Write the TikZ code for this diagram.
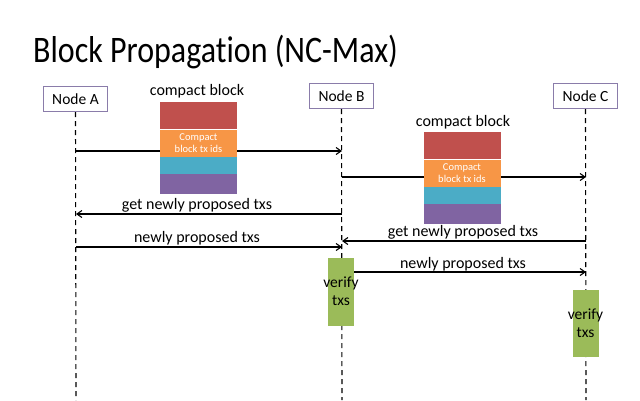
\documentclass[tikz,border=0pt]{standalone}
\usepackage{fontspec}
\setmainfont{Carlito}[Ligatures=NoCommon]
\usetikzlibrary{arrows.meta}
\definecolor{cbred}{HTML}{C0504D}
\definecolor{cborange}{HTML}{F79646}
\definecolor{cbcyan}{HTML}{4BACC6}
\definecolor{cbpurple}{HTML}{8064A2}
\definecolor{cbgreen}{HTML}{9BBB59}
\definecolor{boxline}{HTML}{8A7CAA}
\tikzset{
  actor/.style={draw=boxline, line width=1pt, fill=white, minimum width=64pt, minimum height=25pt, inner sep=0pt, font=\fontsize{15.5}{18}\selectfont},
  lifeline/.style={line width=1.1pt, dash pattern=on 5pt off 4pt},
  msg/.style={line width=1.1pt, -{Straight Barb[length=5pt,width=7pt]}},
  lbl/.style={font=\fontsize{16}{19}\selectfont, inner sep=0pt},
  seg/.style={inner sep=0pt, minimum width=77pt, anchor=north},
  seglbl/.style={font=\fontsize{10.5}{12}\selectfont, text=white, align=center, inner sep=0pt},
  verify/.style={fill=cbgreen, inner sep=0pt, minimum width=26pt, anchor=north},
  vlbl/.style={font=\fontsize{15.5}{18.5}\selectfont, align=center, inner sep=0pt}
}
\begin{document}
\begin{tikzpicture}[x=1pt,y=-1pt]
\useasboundingbox (0,0) rectangle (640,400);
% title
\node[anchor=base west, inner sep=0pt, font=\fontsize{32}{36}\selectfont] (title) at (33,62) {\scalebox{1}[1.17]{Block Propagation (NC-Max)}};
% actors
\node[actor] (A) at (75.5,99) {Node A};
\node[actor] (B) at (341.5,96) {Node B};
\node[actor] (C) at (585.5,96) {Node C};
\coordinate (Aend) at (76,400);
\coordinate (Bend) at (342,400);
\coordinate (Cend) at (586,400);
\draw[lifeline] (A.south) -- (Aend);
\draw[lifeline] (B.south) -- (Bend);
\draw[lifeline] (C.south) -- (Cend);
% message points
\coordinate (a1) at (76,151); \coordinate (b1) at (342,151);
\coordinate (b2) at (342,177); \coordinate (c2) at (586,177);
\coordinate (b3) at (342,214); \coordinate (a3) at (76,214);
\coordinate (c4) at (586,241); \coordinate (b4) at (342,241);
\coordinate (a5) at (76,247); \coordinate (b5) at (342,247);
\coordinate (c6) at (586,272);
% messages
\draw[msg] (a1) -- (b1);
\draw[msg] (b2) -- (c2);
\draw[msg] (b3) -- (a3);
\draw[msg] (c4) -- (b4);
\draw[msg] (a5) -- (b5);
% compact block 1
\node[lbl] (cb1) at (197,91) {compact block};
\node[seg, fill=cbred, minimum height=27pt] (r1) at (198.5,102) {};
\node[seg, fill=cborange, minimum height=27pt] (o1) at (r1.south) {};
\node[seg, fill=cbcyan, minimum height=17pt] (c1) at (o1.south) {};
\node[seg, fill=cbpurple, minimum height=20pt] (p1) at (c1.south) {};
\node[seglbl] (t1) at (o1.center) {Compact\\block tx ids};
% compact block 2
\node[lbl] (cb2) at (463,122) {compact block};
\node[seg, fill=cbred, minimum height=27pt] (r2) at (462,132) {};
\node[seg, fill=cborange, minimum height=27pt] (o2) at (r2.south) {};
\node[seg, fill=cbcyan, minimum height=17pt] (cc2) at (o2.south) {};
\node[seg, fill=cbpurple, minimum height=20pt] (p2) at (cc2.south) {};
\node[seglbl] (t2) at (o2.center) {Compact\\block tx ids};
% labels
\node[lbl] (l3) at (197,205) {get newly proposed txs};
\node[lbl] (l4) at (463,232) {get newly proposed txs};
\node[lbl] (l5) at (197,238) {newly proposed txs};
% verify boxes
\node[verify, minimum height=68pt] (vB) at (341,258) {};
\node[vlbl] (vBt) at (341,291) {verify\\txs};
\draw[msg] (vB.east |- c6) -- (c6);
\node[lbl] (l6) at (463,264) {newly proposed txs};
\node[verify, minimum height=67pt] (vC) at (585.5,290) {};
\node[vlbl] (vCt) at (585.5,323) {verify\\txs};
\end{tikzpicture}
\end{document}
